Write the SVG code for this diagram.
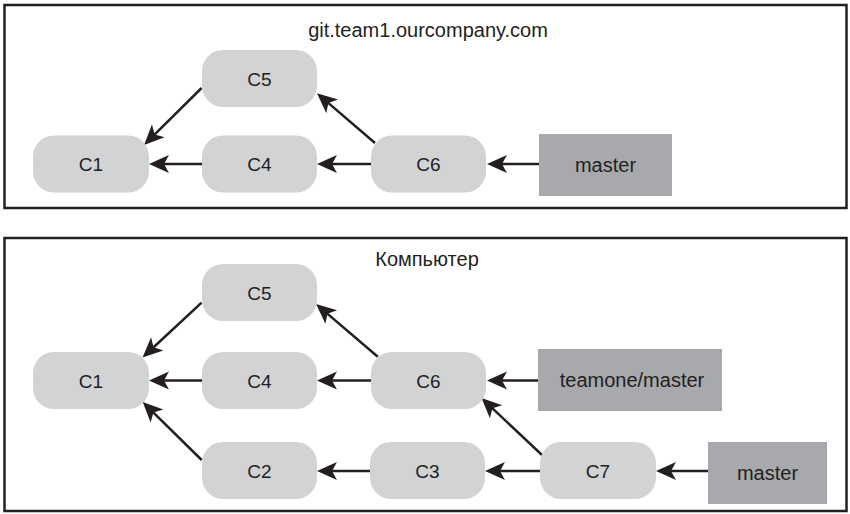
<svg xmlns="http://www.w3.org/2000/svg" width="850" height="514" viewBox="0 0 850 514">
<style>
.frame{fill:#fff;stroke:#231f20;stroke-width:2.5}
.c{fill:#d1d3d4}
.b{fill:#a7a9ac}
.t{font-family:"Liberation Sans",Arial,sans-serif;font-size:19px;fill:#231f20;text-anchor:middle}
.bt{font-size:20px}
.title{font-family:"Liberation Sans",Arial,sans-serif;font-size:20px;fill:#231f20;text-anchor:middle}
.e{stroke:#231f20;stroke-width:2.5;fill:none;marker-end:url(#ah)}
</style>
<defs>
<marker id="ah" markerUnits="userSpaceOnUse" viewBox="-21 -10 22 20" refX="-14" refY="0" markerWidth="22" markerHeight="20" orient="auto">
<path d="M0,0 L-20,-9 L-15,0 L-20,9 Z" fill="#231f20"/>
</marker>
</defs>
<rect width="850" height="514" fill="#fff"/>
<g id="frame-server">
<rect class="frame" x="4.5" y="5" width="842" height="203"/>
<text class="title" x="428" y="37">git.team1.ourcompany.com</text>
</g>
<g id="frame-local">
<rect class="frame" x="4.5" y="238" width="842" height="273"/>
<text class="title" x="427" y="266">Компьютер</text>
</g>
<g id="connectors">
<line class="e" x1="539" y1="164" x2="501" y2="164"/>
<line class="e" x1="371" y1="164" x2="331" y2="164"/>
<line class="e" x1="202" y1="164" x2="163" y2="164"/>
<line class="e" x1="375" y1="143" x2="327.6" y2="102.4"/>
<line class="e" x1="201.6" y1="88" x2="154" y2="135.1"/>
<line class="e" x1="201.6" y1="302.7" x2="152.8" y2="348"/>
<line class="e" x1="377.8" y1="356.7" x2="326.7" y2="313.1"/>
<line class="e" x1="202" y1="380.5" x2="163" y2="380.5"/>
<line class="e" x1="371" y1="380.5" x2="331" y2="380.5"/>
<line class="e" x1="538" y1="380.5" x2="501" y2="380.5"/>
<line class="e" x1="542" y1="455" x2="491.7" y2="407.6"/>
<line class="e" x1="201.7" y1="460" x2="152.7" y2="411.8"/>
<line class="e" x1="370" y1="471" x2="331" y2="471"/>
<line class="e" x1="540" y1="471" x2="499" y2="471"/>
<line class="e" x1="708" y1="471" x2="670" y2="471"/>
</g>
<g id="s-C5"><rect class="c" x="202" y="50" width="115" height="57" rx="21"/><text class="t" x="259.5" y="85.5">C5</text></g>
<g id="s-C1"><rect class="c" x="33" y="135.5" width="116" height="57" rx="21"/><text class="t" x="91" y="171">C1</text></g>
<g id="s-C4"><rect class="c" x="202" y="135.5" width="115" height="57" rx="21"/><text class="t" x="259.5" y="171">C4</text></g>
<g id="s-C6"><rect class="c" x="371" y="135.5" width="115" height="57" rx="21"/><text class="t" x="428.5" y="171">C6</text></g>
<g id="s-master"><rect class="b" x="539" y="134" width="133" height="62"/><text class="t bt" x="605.5" y="171.5">master</text></g>
<g id="l-C5"><rect class="c" x="202" y="264" width="115" height="57" rx="21"/><text class="t" x="259.5" y="299.5">C5</text></g>
<g id="l-C1"><rect class="c" x="33" y="352" width="116" height="57" rx="21"/><text class="t" x="91" y="387.5">C1</text></g>
<g id="l-C4"><rect class="c" x="202" y="352" width="115" height="57" rx="21"/><text class="t" x="259.5" y="387.5">C4</text></g>
<g id="l-C6"><rect class="c" x="371" y="352" width="115" height="57" rx="21"/><text class="t" x="428.5" y="387.5">C6</text></g>
<g id="l-teamone-master"><rect class="b" x="538" y="349" width="184" height="62"/><text class="t bt" x="632" y="386.5">teamone/master</text></g>
<g id="l-C2"><rect class="c" x="202" y="442" width="115" height="57" rx="21"/><text class="t" x="259.5" y="477.5">C2</text></g>
<g id="l-C3"><rect class="c" x="370" y="442" width="115" height="57" rx="21"/><text class="t" x="427.5" y="477.5">C3</text></g>
<g id="l-C7"><rect class="c" x="540" y="442" width="116" height="57" rx="21"/><text class="t" x="598" y="477.5">C7</text></g>
<g id="l-master"><rect class="b" x="708" y="442" width="119" height="62"/><text class="t bt" x="767.5" y="479.5">master</text></g>
</svg>
